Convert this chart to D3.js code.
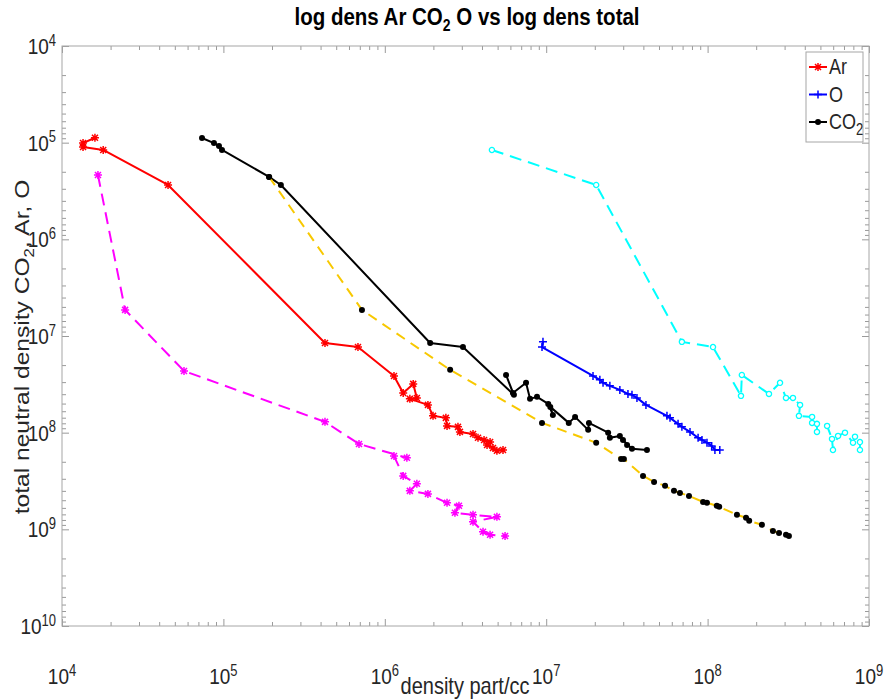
<!DOCTYPE html>
<html lang="en">
<head>
<meta charset="UTF-8">
<title>log dens Ar CO2 O vs log dens total</title>
<style>
    body {
        margin: 0;
        background: #ffffff;
        font-family: 'Liberation Sans', Arial, sans-serif;
    }
    .ticks line {
        stroke: #9a9a9a;
    }
    .ticks .domain {
        display: none;
    }
    text {
        fill: #262626;
    }
</style>
</head>
<body>
<script src="https://d3js.org/d3.v7.min.js"></script>
<script>
    // Ar measured (red) and model (magenta)
    const arX = [1.60e4, 1.35e4, 1.35e4, 1.80e4, 4.54e4, 4.26e5, 6.82e5, 1.14e6, 1.30e6, 1.50e6, 1.58e6, 1.43e6, 1.85e6,
        1.99e6, 2.39e6, 2.43e6, 2.84e6, 2.92e6, 3.52e6, 3.78e6, 4.12e6, 4.49e6, 4.30e6, 4.68e6, 4.95e6, 5.40e6];
    const arY = [8.9e4, 1.01e5, 1.11e5, 1.19e5, 2.74e5, 1.18e7, 1.30e7, 2.59e7, 3.88e7, 3.13e7, 4.37e7, 4.47e7, 5.16e7,
        6.70e7, 7.03e7, 8.51e7, 8.71e7, 9.82e7, 1.03e8, 1.13e8, 1.19e8, 1.25e8, 1.34e8, 1.44e8, 1.54e8, 1.51e8];
    const arModelX = [1.67e4, 2.46e4, 5.70e4, 4.26e5, 6.92e5, 1.37e6, 1.14e6, 1.30e6, 1.58e6, 1.43e6, 1.85e6, 2.43e6,
        2.88e6, 2.72e6, 3.52e6, 4.95e6, 3.52e6, 4.06e6, 4.49e6, 5.56e6];
    const arModelY = [2.16e5, 5.37e6, 2.30e7, 7.73e7, 1.31e8, 1.82e8, 1.74e8, 2.80e8, 3.38e8, 4.00e8, 4.30e8, 5.32e8,
        5.71e8, 6.75e8, 7.08e8, 7.43e8, 8.36e8, 1.06e9, 1.14e9, 1.17e9];

    // CO2 measured (black) and model (yellow dashed, black dots)
    const co2X = [7.37e4, 8.74e4, 9.39e4, 9.80e4, 1.92e5, 2.27e5, 1.91e6, 3.05e6, 6.31e6, 5.64e6, 6.22e6, 7.50e6, 7.94e6,
        8.77e6, 1.03e7, 1.10e7, 1.06e7, 1.38e7, 1.51e7, 1.82e7, 1.84e7, 2.42e7, 2.48e7, 2.86e7, 3.17e7, 2.99e7, 3.40e7, 4.21e7];
    const co2Y = [8.94e4, 1.01e5, 1.08e5, 1.19e5, 2.26e5, 2.74e5, 1.18e7, 1.30e7, 4.06e7, 2.53e7, 3.88e7, 3.05e7, 4.47e7,
        4.26e7, 5.04e7, 6.55e7, 5.41e7, 7.92e7, 6.87e7, 9.35e7, 7.92e7, 1.00e8, 1.13e8, 1.08e8, 1.34e8, 1.19e8, 1.47e8, 1.51e8];
    const co2ModelX = [1.92e5, 7.22e5, 2.54e6, 9.42e6, 2.04e7, 2.91e7, 3.03e7, 3.98e7, 4.66e7, 5.45e7, 6.19e7, 6.74e7,
        7.67e7, 9.37e7, 9.91e7, 1.14e8, 1.18e8, 1.52e8, 1.73e8, 1.81e8, 2.17e8, 2.54e8, 2.77e8, 3.06e8, 3.19e8];
    const co2ModelY = [2.26e5, 5.37e6, 2.24e7, 7.92e7, 1.27e8, 1.87e8, 1.87e8, 2.80e8, 3.23e8, 3.55e8, 4.00e8, 4.20e8,
        4.51e8, 5.20e8, 5.32e8, 5.71e8, 5.85e8, 7.08e8, 7.60e8, 8.17e8, 8.97e8, 1.04e9, 1.09e9, 1.14e9, 1.17e9];

    // O measured (blue) and model (cyan dashed)
    const oX = [9.55e6, 9.42e6, 1.95e7, 2.15e7, 2.25e7, 2.48e7, 2.86e7, 3.21e7, 3.40e7, 3.65e7, 4.15e7, 5.60e7, 5.85e7,
        6.56e7, 6.93e7, 7.78e7, 8.73e7, 9.23e7, 9.91e7, 1.06e8, 1.11e8, 1.19e8];
    const oY = [1.15e7, 1.30e7, 2.59e7, 2.84e7, 3.05e7, 3.28e7, 3.61e7, 3.97e7, 4.06e7, 4.37e7, 5.16e7, 6.70e7, 7.03e7,
        8.11e7, 8.71e7, 9.82e7, 1.13e8, 1.19e8, 1.27e8, 1.37e8, 1.51e8, 1.51e8];
    const oModelX = [4.61e6, 2.04e7, 6.93e7, 1.08e8, 1.61e8, 1.63e8, 2.40e8, 2.81e8, 3.06e8, 3.38e8, 3.74e8, 3.68e8, 4.44e8,
        4.44e8, 4.76e8, 4.76e8, 5.50e8, 5.90e8, 5.98e8, 6.43e8, 7.10e8, 7.96e8, 8.19e8, 8.79e8, 8.79e8];
    const oModelY = [1.19e5, 2.74e5, 1.15e7, 1.30e7, 4.16e7, 2.53e7, 3.97e7, 3.05e7, 4.37e7, 4.37e7, 5.16e7, 6.70e7, 6.87e7,
        7.92e7, 8.11e7, 9.82e7, 8.51e7, 1.16e8, 1.51e8, 1.08e8, 1.00e8, 1.27e8, 1.10e8, 1.25e8, 1.51e8];

    const xDomain = [1e4, 1e9];
    const yDomain = [1e4, 1e10];

    const width = 885;
    const height = 700;
    const plot = {left: 62, right: 869, top: 46, bottom: 626};
    const stretch = 1.2; // text in the reference is taller than wide

    const svg = d3.select("body")
        .append("svg")
        .attr("width", width)
        .attr("height", height);

    const x = d3.scaleLog().domain(xDomain).range([plot.left, plot.right]);
    const y = d3.scaleLog().domain(yDomain).range([plot.top, plot.bottom]);

    const isMajor = v => Math.abs(Math.log10(v) - Math.round(Math.log10(v))) < 1e-9;
    const xMajor = x.ticks().filter(isMajor), xMinor = x.ticks().filter(v => !isMajor(v));
    const yMajor = y.ticks().filter(isMajor), yMinor = y.ticks().filter(v => !isMajor(v));

    // inward ticks on all four sides
    function addTicks(axisFn, scale, values, size, tx, ty) {
        svg.append("g")
            .attr("class", "ticks")
            .attr("transform", `translate(${tx},${ty})`)
            .call(axisFn(scale).tickValues(values).tickSize(size).tickSizeOuter(0).tickFormat(""));
    }
    addTicks(d3.axisBottom, x, xMajor, -7, 0, plot.bottom);
    addTicks(d3.axisBottom, x, xMinor, -4, 0, plot.bottom);
    addTicks(d3.axisTop, x, xMajor, -7, 0, plot.top);
    addTicks(d3.axisTop, x, xMinor, -4, 0, plot.top);
    addTicks(d3.axisLeft, y, yMajor, -7, plot.left, 0);
    addTicks(d3.axisLeft, y, yMinor, -4, plot.left, 0);
    addTicks(d3.axisRight, y, yMajor, -7, plot.right, 0);
    addTicks(d3.axisRight, y, yMinor, -4, plot.right, 0);

    svg.append("rect")
        .attr("x", plot.left)
        .attr("y", plot.top)
        .attr("width", plot.right - plot.left)
        .attr("height", plot.bottom - plot.top)
        .attr("fill", "none")
        .attr("stroke", "#a6a6a6")
        .attr("stroke-width", 1);

    // tick labels 10^n
    function powerLabel(px, py, v, anchor) {
        const t = svg.append("g")
            .attr("transform", `translate(${px},${py}) scale(1,${stretch})`)
            .append("text")
            .attr("text-anchor", anchor)
            .attr("font-size", 19);
        t.append("tspan").text("10");
        t.append("tspan")
            .attr("dy", -7)
            .attr("font-size", 13)
            .text(Math.round(Math.log10(v)));
    }
    xMajor.forEach(v => powerLabel(x(v), 684, v, "middle"));
    yMajor.forEach(v => powerLabel(56, y(v) + 8, v, "end"));

    // title
    const title = svg.append("g")
        .attr("transform", `translate(467,25) scale(1,${stretch})`)
        .append("text")
        .attr("text-anchor", "middle")
        .attr("font-size", 20.5)
        .attr("font-weight", "bold")
        .style("fill", "#000");
    title.append("tspan").text("log dens Ar CO");
    title.append("tspan").attr("dy", 5).attr("font-size", 14).text("2");
    title.append("tspan").attr("dy", -5).text(" O vs log dens total");

    svg.append("g")
        .attr("transform", `translate(465,694) scale(1,${stretch})`)
        .append("text")
        .attr("text-anchor", "middle")
        .attr("font-size", 20)
        .text("density part/cc");

    const yLabel = svg.append("g")
        .attr("transform", `translate(29,347) scale(1,${stretch}) rotate(-90)`)
        .append("text")
        .attr("text-anchor", "middle")
        .attr("font-size", 20.5);
    yLabel.append("tspan").text("total neutral density CO");
    yLabel.append("tspan").attr("dy", 5).attr("font-size", 14).text("2");
    yLabel.append("tspan").attr("dy", -5).text(", Ar, O");

    // series
    const line = d3.line().x(d => x(d[0])).y(d => y(d[1]));
    const zip = (xs, ys) => xs.map((v, i) => [v, ys[i]]);

    const markerPath = {
        star: "M-4,0H4M0,-4V4M-3,-3L3,3M-3,3L3,-3",
        plus: "M-4,0H4M0,-4V4"
    };

    function drawSeries(pts, color, dash, marker) {
        svg.append("path")
            .datum(pts)
            .attr("d", line)
            .attr("fill", "none")
            .attr("stroke", color)
            .attr("stroke-width", 2)
            .attr("stroke-dasharray", dash)
            .attr("stroke-linejoin", "round");
        const m = svg.append("g").selectAll("g")
            .data(pts)
            .join("g")
            .attr("transform", d => `translate(${x(d[0])},${y(d[1])})`);
        if (marker === "dot") {
            m.append("circle").attr("r", 3).attr("fill", "#000");
        } else if (marker === "circle") {
            m.append("circle").attr("r", 2.6).attr("fill", "#fff").attr("stroke", color).attr("stroke-width", 1.3);
        } else {
            m.append("path").attr("d", markerPath[marker]).attr("stroke", color).attr("stroke-width", 1.5);
        }
    }

    drawSeries(zip(arModelX, arModelY), "#ff00ff", "12,7", "star");
    drawSeries(zip(arX, arY), "#ff0000", null, "star");
    drawSeries(zip(co2X, co2Y), "#000000", null, "dot");
    drawSeries(zip(co2ModelX, co2ModelY), "#f8c800", "10,7", "dot");
    drawSeries(zip(oModelX, oModelY), "#00ffff", "12,7", "circle");
    drawSeries(zip(oX, oY), "#0000ff", null, "plus");

    // legend
    const legendItems = [
        {name: "Ar", color: "#ff0000", marker: "star"},
        {name: "O", color: "#0000ff", marker: "plus"},
        {name: "CO", sub: "2", color: "#000000", marker: "dot"}
    ];

    const legend = svg.append("g").attr("transform", "translate(806,52)");
    legend.append("rect")
        .attr("width", 57)
        .attr("height", 90)
        .attr("fill", "#fff")
        .attr("stroke", "#a6a6a6");

    const item = legend.selectAll(".item")
        .data(legendItems)
        .join("g")
        .attr("class", "item")
        .attr("transform", (d, i) => `translate(0,${15 + i * 27.5})`);

    item.append("line")
        .attr("x1", 3).attr("x2", 21)
        .attr("stroke", d => d.color)
        .attr("stroke-width", 2);
    item.each(function(d) {
        const g = d3.select(this).append("g").attr("transform", "translate(12,0)");
        if (d.marker === "dot") {
            g.append("circle").attr("r", 3).attr("fill", d.color);
        } else {
            g.append("path").attr("d", markerPath[d.marker]).attr("stroke", d.color).attr("stroke-width", 1.5);
        }
    });
    item.each(function(d) {
        const t = d3.select(this).append("g")
            .attr("transform", `translate(23,7) scale(1,${stretch})`)
            .append("text")
            .attr("font-size", 18);
        t.append("tspan").text(d.name);
        if (d.sub) t.append("tspan").attr("dy", 5).attr("font-size", 13).text(d.sub);
    });
</script>
</body>
</html>
